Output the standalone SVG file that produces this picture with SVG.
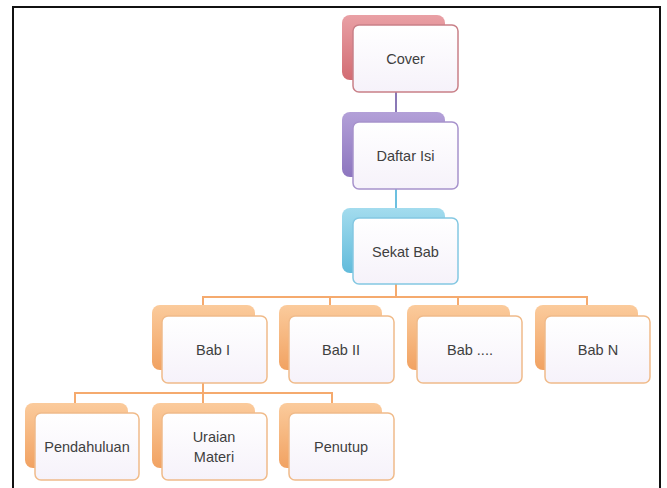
<svg xmlns="http://www.w3.org/2000/svg" width="667" height="488" viewBox="0 0 667 488">
<defs>
<linearGradient id="gRed" x1="0" y1="0" x2="0" y2="1"><stop offset="0" stop-color="#e9a0a5"/><stop offset="1" stop-color="#d26c73"/></linearGradient>
<linearGradient id="gPur" x1="0" y1="0" x2="0" y2="1"><stop offset="0" stop-color="#b3a0d8"/><stop offset="1" stop-color="#8d76bf"/></linearGradient>
<linearGradient id="gBlu" x1="0" y1="0" x2="0" y2="1"><stop offset="0" stop-color="#a3dcee"/><stop offset="1" stop-color="#62bbdb"/></linearGradient>
<linearGradient id="gOra" x1="0" y1="0" x2="0" y2="1"><stop offset="0" stop-color="#fbcb9c"/><stop offset="1" stop-color="#f1a262"/></linearGradient>
<linearGradient id="gFront" x1="0" y1="0" x2="0" y2="1"><stop offset="0" stop-color="#ffffff"/><stop offset="1" stop-color="#f6f2fa"/></linearGradient>
</defs>
<style>
.back{stroke:none}
.front{fill:url(#gFront);stroke-width:1.5}
.red .back{fill:url(#gRed)} .red .front{stroke:#c98088}
.pur .back{fill:url(#gPur)} .pur .front{stroke:#a792cc}
.blu .back{fill:url(#gBlu)} .blu .front{stroke:#84c8e2}
.ora .back{fill:url(#gOra)} .ora .front{stroke:#f0bb8a}
text{font-family:"Liberation Sans","Noto Sans",Arial,sans-serif;font-size:14.5px;fill:#3f3f3f;text-anchor:middle;dominant-baseline:central}
.c{fill:none;stroke-width:2}
</style>
<rect x="13" y="7" width="647" height="500" fill="none" stroke="#111" stroke-width="2"/>
<g id="connectors">
<path class="c" stroke="#8a78b6" d="M396 92V113"/>
<path class="c" stroke="#6cc0e0" d="M396 188V208"/>
<path class="c" stroke="#f5aa6e" d="M396 283V297M203 305V297H587V305M330 297V305M458 297V305"/>
<path class="c" stroke="#f5aa6e" d="M203 383V393M75 403V393H332V403M203 393V403"/>
</g>
<g id="cover" class="red"><rect class="back" x="342" y="15" width="103" height="65" rx="8"/><rect class="front" x="353" y="25" width="105" height="67" rx="6"/><text x="405.5" y="59">Cover</text></g>
<g id="daftar-isi" class="pur"><rect class="back" x="342" y="112" width="103" height="65" rx="8"/><rect class="front" x="353" y="122" width="105" height="67" rx="6"/><text x="405.5" y="156">Daftar Isi</text></g>
<g id="sekat-bab" class="blu"><rect class="back" x="342" y="208" width="103" height="65" rx="8"/><rect class="front" x="353" y="218" width="105" height="66" rx="6"/><text x="405.5" y="252">Sekat Bab</text></g>
<g id="bab-1" class="ora"><rect class="back" x="152" y="305" width="103" height="65" rx="8"/><rect class="front" x="162" y="316" width="105" height="67" rx="6"/><text x="213" y="350">Bab I</text></g>
<g id="bab-2" class="ora"><rect class="back" x="279" y="305" width="103" height="65" rx="8"/><rect class="front" x="289" y="316" width="105" height="67" rx="6"/><text x="341" y="350">Bab II</text></g>
<g id="bab-dots" class="ora"><rect class="back" x="407" y="305" width="103" height="65" rx="8"/><rect class="front" x="417" y="316" width="105" height="67" rx="6"/><text x="470" y="350">Bab ....</text></g>
<g id="bab-n" class="ora"><rect class="back" x="535" y="305" width="103" height="65" rx="8"/><rect class="front" x="545" y="316" width="105" height="67" rx="6"/><text x="598" y="350">Bab N</text></g>
<g id="pendahuluan" class="ora"><rect class="back" x="25" y="403" width="103" height="65" rx="8"/><rect class="front" x="35" y="413" width="104" height="67" rx="6"/><text x="87" y="447">Pendahuluan</text></g>
<g id="uraian-materi" class="ora"><rect class="back" x="152" y="403" width="103" height="65" rx="8"/><rect class="front" x="162" y="413" width="105" height="67" rx="6"/><text x="214" y="437">Uraian</text><text x="214" y="457">Materi</text></g>
<g id="penutup" class="ora"><rect class="back" x="279" y="403" width="103" height="65" rx="8"/><rect class="front" x="289" y="413" width="105" height="67" rx="6"/><text x="341" y="447">Penutup</text></g>
</svg>
